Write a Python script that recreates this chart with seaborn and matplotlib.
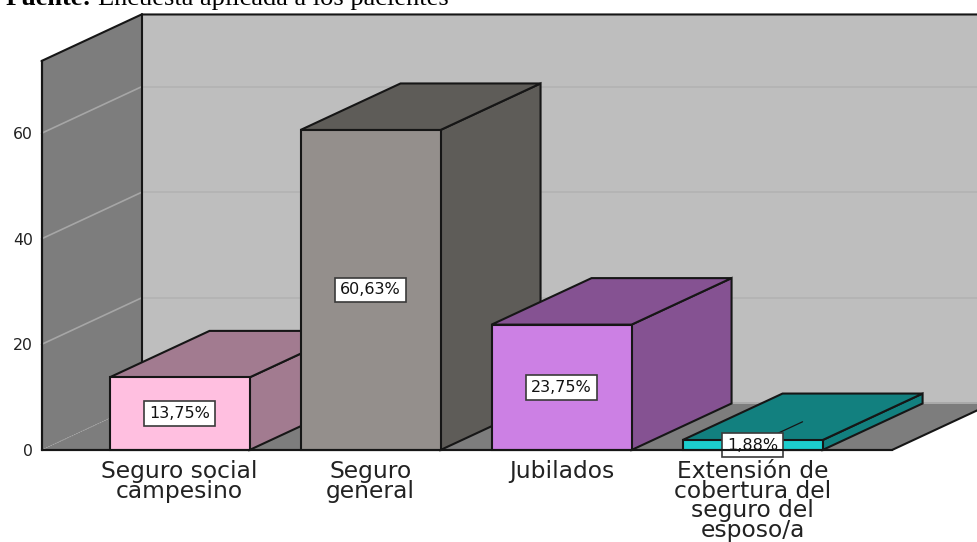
import matplotlib
matplotlib.use("Agg")
import matplotlib.pyplot as plt
from matplotlib.patches import Polygon
import seaborn as sns
import pandas as pd

# Survey data
categories = ["Seguro social\ncampesino", "Seguro\ngeneral", "Jubilados",
              "Extensión de\ncobertura del\nseguro del\nesposo/a"]
percentages = [13.75, 60.63, 23.75, 1.88]
value_labels = ["13,75%", "60,63%", "23,75%", "1,88%"]
y_ticks = [0, 20, 40, 60]

# Face colours per bar
front_colors = ["#FFBFE0", "#948F8C", "#CC80E4", "#1CCDCD"]
top_colors = ["#A27B90", "#5E5C58", "#855292", "#12807F"]
side_colors = ["#A27B90", "#5E5C58", "#855292", "#12807F"]

# Oblique projection and plot frame, in data units
DEPTH_X = 0.5236
DEPTH_Y = 8.815
BAR_WIDTH = 0.733
X_MIN, X_MAX = -0.7225, 3.73
Y_MAX = 73.7
EDGE = "#161616"
LW = 1.5

sns.set_theme(style="white")
plt.rcParams["font.family"] = ["DejaVu Sans"]

W, H = 977, 542
fig = plt.figure(figsize=(W / 100, H / 100), dpi=100, facecolor="white")
ax = fig.add_axes([41.5 / W, 1 - 450 / H, (892 - 41.5) / W, (450 - 61) / H])

df = pd.DataFrame({"categoria": categories, "porcentaje": percentages})
sns.barplot(data=df, x="categoria", y="porcentaje", hue="categoria",
            palette=front_colors, width=BAR_WIDTH, saturation=1, legend=False,
            edgecolor=EDGE, linewidth=LW, ax=ax)
ax.set_xlim(X_MIN, X_MAX)
ax.set_ylim(0, Y_MAX)
ax.set_xlabel("")
ax.set_ylabel("")


def face(points, color, z, edge=EDGE):
    ax.add_patch(Polygon(points, closed=True, facecolor=color, edgecolor=edge,
                         linewidth=LW, zorder=z, clip_on=False, joinstyle="miter"))


def edge_line(xs, ys, z):
    ax.plot(xs, ys, color=EDGE, lw=LW, zorder=z, clip_on=False)


# Chart box: back wall, floor and left wall, with outlines only on the outer edges
bx0, bx1 = X_MIN + DEPTH_X, X_MAX + DEPTH_X
top = Y_MAX + DEPTH_Y
face([(bx0, DEPTH_Y), (bx1, DEPTH_Y), (bx1, top), (bx0, top)], "#BEBEBE", 0.5, edge="none")
face([(X_MIN, 0), (X_MAX, 0), (bx1, DEPTH_Y), (bx0, DEPTH_Y)], "#7D7D7D", 0.6, edge="none")
face([(X_MIN, 0), (bx0, DEPTH_Y), (bx0, top), (X_MIN, Y_MAX)], "#7D7D7D", 0.7, edge="none")
edge_line([X_MIN, bx0, bx1], [Y_MAX, top, top], 0.9)
edge_line([X_MIN, X_MIN], [0, Y_MAX], 0.9)
edge_line([bx0, bx0], [DEPTH_Y, top], 0.9)
edge_line([X_MAX, bx1], [0, DEPTH_Y], 0.9)

# Gridlines run along the left wall and across the back wall
for t in y_ticks[1:]:
    ax.plot([X_MIN, bx0], [t, t + DEPTH_Y], color="#A6A6A6", lw=1.2, zorder=0.8, clip_on=False)
    ax.plot([bx0, bx1], [t + DEPTH_Y, t + DEPTH_Y], color="#B2B2B2", lw=1.2, zorder=0.55, clip_on=False)
ax.plot([X_MIN, bx0], [0, DEPTH_Y], color="#A6A6A6", lw=0.7, ls=":", zorder=0.8, clip_on=False)
ax.plot([bx0, bx1], [DEPTH_Y, DEPTH_Y], color="#AAAAAA", lw=1.4, zorder=0.65, clip_on=False)

# Bars are painted left to right so each one hides the side of its neighbour
for i, (v, bar) in enumerate(zip(percentages, ax.patches)):
    x0, x1 = i - BAR_WIDTH / 2, i + BAR_WIDTH / 2
    base = 2 + i * 2
    face([(x1, 0), (x1 + DEPTH_X, DEPTH_Y), (x1 + DEPTH_X, v + DEPTH_Y), (x1, v)], side_colors[i], base)
    face([(x0, v), (x1, v), (x1 + DEPTH_X, v + DEPTH_Y), (x0 + DEPTH_X, v + DEPTH_Y)], top_colors[i], base)
    bar.set_zorder(base + 1)
    bar.set_clip_on(False)

# Value labels sit at mid height; the last one has a leader into the bar
for i, (v, text) in enumerate(zip(percentages, value_labels)):
    if v < 5:
        ax.plot([i, i + DEPTH_X / 2], [v / 2, v / 2 + DEPTH_Y / 2], color=EDGE, lw=0.9, zorder=20)
    ax.text(i, v / 2, text, ha="center", va="center", fontsize=11.5, color="#111111", zorder=21,
            bbox=dict(boxstyle="square,pad=0.3", facecolor="white", edgecolor="#3A3A3A", linewidth=1.2))

# Axes frame and ticks
for s in ("top", "right"):
    ax.spines[s].set_visible(False)
for s in ("left", "bottom"):
    ax.spines[s].set_color(EDGE)
    ax.spines[s].set_linewidth(LW)
    ax.spines[s].set_zorder(1)
ax.plot([X_MIN, X_MAX], [0, 0], color=EDGE, lw=LW, zorder=30, clip_on=False)
ax.set_yticks(y_ticks)
ax.tick_params(axis="y", length=0, pad=6, labelsize=11.3, labelcolor="#222222")
ax.tick_params(axis="x", length=0, pad=7.5, labelsize=16.8, labelcolor="#222222")
for lab in ax.get_xticklabels():
    lab.set_linespacing(0.8)
ax.grid(False)

# Source line along the top edge
src = fig.text(6 / W, 1 - 5 / H, "Fuente:", family="Liberation Serif", weight="bold",
               fontsize=19, color="black", va="baseline", ha="left")
fig.canvas.draw()
ext = src.get_window_extent()
fig.text((ext.x1 + 6) / W, 1 - 5 / H, "Encuesta aplicada a los pacientes", family="Liberation Serif",
         fontsize=19, color="black", va="baseline", ha="left")

fig.savefig("out.png", dpi=100, facecolor="white")
